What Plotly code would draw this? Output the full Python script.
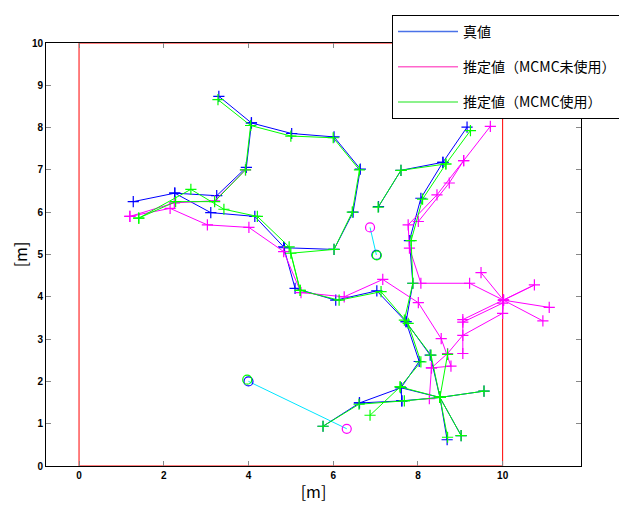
import plotly.graph_objects as go

N = None
# ---- data ----
field_x = [0, 10, 10, 0, 0]
field_y = [0, 0, 10, 10, 0]

# true trajectory (segments separated by None)
true_x = [1.28, 2.26, 3.25, 3.95, 4.07, 3.30, N,
          4.07, 5.02, 6.02, 6.64, 6.47, 6.02, 4.85, N,
          2.26, 3.11, 4.15, 4.83, 5.10, 6.06, 7.03, 7.72, 8.03, 7.60, 7.62, 8.52, 9.56, N,
          7.07, 7.60, 8.59, 9.16, N,
          8.59, 8.07, 7.80, 7.88, 7.72, 8.29, 8.52, 8.69, N,
          8.52, 9.02, N,
          5.76, 6.62, 7.60, 8.52, N,
          6.62, 7.62]
true_y = [6.25, 6.45, 6.39, 7.06, 8.11, 8.74, N,
          8.11, 7.86, 7.78, 7.02, 6.00, 5.12, 5.16, N,
          6.45, 5.99, 5.90, 5.18, 4.20, 3.92, 4.14, 3.41, 2.47, 1.85, 1.54, 1.62, 1.77, N,
          6.13, 6.99, 7.18, 8.01, N,
          7.18, 6.33, 5.33, 4.32, 3.41, 2.62, 1.62, 0.62, N,
          1.62, 0.72, N,
          0.94, 1.49, 1.85, 1.62, N,
          1.49, 1.54]

# estimate without MCMC
nomcmc_x = [1.20, 2.25, 3.20, 3.93, N,
            1.20, 2.15, 3.03, 4.01, 4.83, 5.24, 6.26, 7.17, 8.01, 8.55, 8.78, 8.32, 8.27, N,
            9.71, 9.08, 8.74, 8.01, N,
            9.08, 8.45, 7.77, 7.80, 8.07, 9.22, 10.02, N,
            9.49, 10.02, 10.75, 9.06, 9.06, N,
            11.10, 10.02, 10.95, N,
            9.06, 10.00, N,
            8.32, 8.70, 9.06, 10.00, 10.02]
nomcmc_y = [5.90, 6.22, 6.27, 7.00, N,
            5.90, 6.09, 5.70, 5.64, 5.07, 4.10, 4.00, 4.41, 3.86, 3.01, 2.36, 2.32, 1.59, N,
            8.03, 7.22, 6.69, 5.78, N,
            7.22, 6.41, 5.70, 5.15, 4.32, 4.32, 3.92, N,
            4.57, 3.92, 4.28, 3.46, 2.66, N,
            3.75, 3.92, 3.43, N,
            3.40, 3.85, N,
            2.32, 2.66, 3.09, 3.61, 3.92]

# estimate with MCMC
mcmc_x = [1.41, 2.28, 3.20, 3.93, 4.05, 3.28, N,
          4.05, 5.00, 6.00, 6.62, 6.45, 6.02, 5.00, 5.22, N,
          1.41, 2.64, 3.42, 4.21, 4.96, 5.22, 6.14, 7.13, 7.77, 8.07, 7.58, 8.52, 9.56, N,
          7.06, 7.60, 8.66, 9.24, N,
          8.66, 8.11, 7.84, 7.88, 7.68, 8.31, 8.52, 8.70, N,
          8.52, 9.02, N,
          5.76, 6.61, 7.68, 8.52, N,
          6.87, 7.58, N,
          8.52, 8.70]
mcmc_y = [5.86, 6.25, 6.25, 7.00, 8.05, 8.66, N,
          8.05, 7.80, 7.76, 7.00, 6.00, 5.12, 5.03, 4.15, N,
          5.86, 6.54, 6.07, 5.90, 5.18, 4.15, 3.92, 4.12, 3.37, 2.46, 1.87, 1.62, 1.77, N,
          6.12, 6.99, 7.14, 7.93, N,
          7.14, 6.31, 5.33, 4.32, 3.45, 2.62, 1.62, 0.68, N,
          1.62, 0.72, N,
          0.94, 1.46, 1.54, 1.62, N,
          1.20, 1.87, N,
          1.62, 2.64]

# landmarks
lm_true_x = [4.00, 7.02]
lm_true_y = [2.00, 4.99]
lm_nomcmc_x = [6.32, 6.87]
lm_nomcmc_y = [0.88, 5.64]
lm_mcmc_x = [3.97, 7.03]
lm_mcmc_y = [2.04, 4.98]

x_ticks = [0, 2, 4, 6, 8, 10]
y_ticks = list(range(0, 11))

names = ["真値", "推定値（MCMC未使用）", "推定値（MCMC使用）"]
BLUE, MAG, GRN = "#0000ff", "#ff00ff", "#00ff00"
LEG_COLS = ["#4a72e8", "#ff66cc", "#66ee66"]

W, H = 619, 498   # page body has an 8px margin inside the 627x506 window

fig = go.Figure()
fig.add_trace(go.Scatter(x=field_x, y=field_y, mode="lines",
                         line=dict(color="#ff0000", width=1), showlegend=False, hoverinfo="skip"))

# cyan links between true landmark and non-MCMC estimate
link_x, link_y = [], []
for a, b, c, d in zip(lm_true_x, lm_true_y, lm_nomcmc_x, lm_nomcmc_y):
    link_x += [a, c, None]
    link_y += [b, d, None]
fig.add_trace(go.Scatter(x=link_x, y=link_y, mode="lines",
                         line=dict(color="#00e5ff", width=1), showlegend=False, hoverinfo="skip"))

for xs, ys, col, nm in [(true_x, true_y, BLUE, names[0]),
                        (nomcmc_x, nomcmc_y, MAG, names[1]),
                        (mcmc_x, mcmc_y, GRN, names[2])]:
    fig.add_trace(go.Scatter(x=xs, y=ys, mode="lines+markers", name=nm, legendgroup=nm,
                             showlegend=False,
                             line=dict(color=col, width=1),
                             marker=dict(symbol="cross-thin", size=8, line=dict(color=col, width=1.2))))

# legend entries (line only, as in the original)
for nm, lc in zip(names, LEG_COLS):
    fig.add_trace(go.Scatter(x=[None], y=[None], mode="lines", name=nm, legendgroup=nm,
                             line=dict(color=lc, width=1.5)))

for xs, ys, col in [(lm_true_x, lm_true_y, BLUE), (lm_nomcmc_x, lm_nomcmc_y, MAG),
                    (lm_mcmc_x, lm_mcmc_y, GRN)]:
    fig.add_trace(go.Scatter(x=xs, y=ys, mode="markers", showlegend=False,
                             marker=dict(symbol="circle-open", size=9, color=col, line=dict(width=1.2))))

tickfont = dict(family="Liberation Sans Narrow, Liberation Sans, Arial", size=10, color="black", weight="bold")
axis_common = dict(showline=True, linecolor="black", linewidth=1, mirror="ticks",
                   ticks="inside", ticklen=5, tickcolor="#888888", tickwidth=1,
                   showgrid=False, zeroline=False, tickfont=tickfont, automargin=False)

fig.update_layout(
    width=W, height=H,
    margin=dict(l=38, r=46, t=35, b=40, autoexpand=False),
    plot_bgcolor="white", paper_bgcolor="white",
    xaxis=dict(range=[-0.78, 11.85], tickvals=x_ticks, **axis_common,
               title=dict(text="[m]", font=dict(family="Noto Sans CJK JP", size=16, color="black"), standoff=6)),
    yaxis=dict(range=[0, 10], tickvals=y_ticks, **axis_common,
               title=dict(text="[m]", font=dict(family="Noto Sans CJK JP", size=16, color="black"), standoff=10)),
    legend=dict(xref="container", yref="container", x=(392 - 8) / W, y=1 - (15 - 8) / H,
                xanchor="left", yanchor="top",
                bgcolor="white", bordercolor="black", borderwidth=1,
                font=dict(family="Noto Sans CJK JP", size=14, color="black"),
                traceorder="grouped", tracegroupgap=14, itemwidth=60),
    showlegend=True,
)
fig.write_html("out.html")
